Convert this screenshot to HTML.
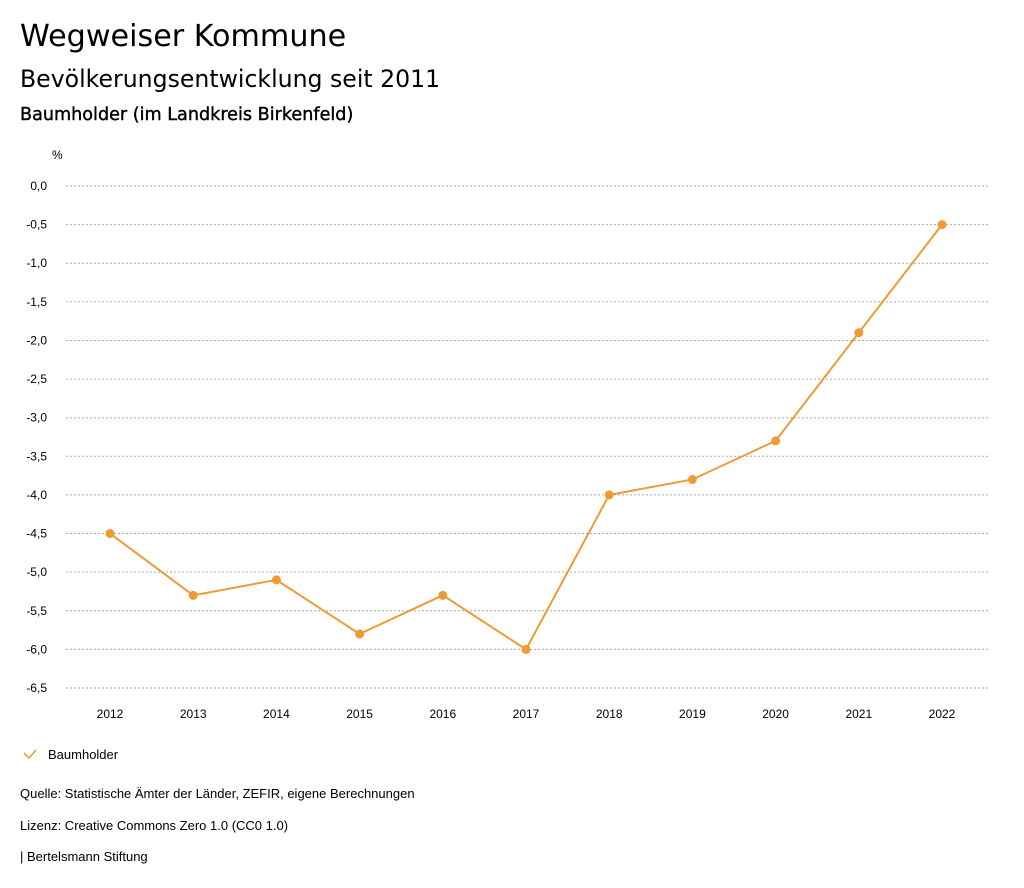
<!DOCTYPE html>
<html><head><meta charset="utf-8"><style>
body{margin:0;background:#fff;width:1024px;height:888px;overflow:hidden;font-family:"Liberation Sans","DejaVu Sans",sans-serif;color:#000}
.t{position:absolute;left:20px;white-space:nowrap}
</style></head><body>
<div class="t" style="top:19px;font-size:30.2px;font-family:'DejaVu Sans',sans-serif">Wegweiser Kommune</div>
<div class="t" style="top:65px;font-size:23.6px;font-family:'DejaVu Sans',sans-serif">Bevölkerungsentwicklung seit 2011</div>
<div class="t" style="top:105px;font-size:17.6px;font-family:'DejaVu Sans',sans-serif;-webkit-text-stroke:0.4px #000">Baumholder (im Landkreis Birkenfeld)</div>
<svg id="chart" width="1024" height="888" style="position:absolute;left:0;top:0" font-family="Liberation Sans, sans-serif" font-size="12">
<text x="52" y="159">%</text>
<g id="grid"></g><g id="xt"></g><g id="series"></g>
<g>
<path d="M24 753 L29 758 L36 750" stroke="#ef9a35" stroke-width="1.6" fill="none"/>
<text x="48" y="759" font-size="13">Baumholder</text></g>
<text x="20" y="798" font-size="13">Quelle: Statistische Ämter der Länder, ZEFIR, eigene Berechnungen</text>
<text x="20" y="830" font-size="13">Lizenz: Creative Commons Zero 1.0 (CC0 1.0)</text>
<text x="20" y="861" font-size="13">| Bertelsmann Stiftung</text>
</svg>
<script>
const years=["2012","2013","2014","2015","2016","2017","2018","2019","2020","2021","2022"];
const values=[-4.5,-5.3,-5.1,-5.8,-5.3,-6.0,-4.0,-3.8,-3.3,-1.9,-0.5];
const yTicks=[0,-0.5,-1,-1.5,-2,-2.5,-3,-3.5,-4,-4.5,-5,-5.5,-6,-6.5];
const NS="http://www.w3.org/2000/svg";
const y=v=>186+(0-v)/6.5*502;
const x=i=>110+i*(942-110)/(years.length-1);
function mk(t,a,p){const e=document.createElementNS(NS,t);for(const k in a)e.setAttribute(k,a[k]);p.appendChild(e);return e;}
const g=document.getElementById('grid');
yTicks.forEach(v=>{
 const l=mk('line',{x1:66,x2:990,y1:y(v),y2:y(v),stroke:'#aaa','stroke-dasharray':'2,2'},g);
 
 
 const t=mk('text',{x:47,y:y(v)+4,'text-anchor':'end'},g);
 t.textContent=v.toFixed(1).replace('.',',');
 
 
});
const xt=document.getElementById('xt');
years.forEach((yr,i)=>{
 const t=mk('text',{x:x(i),y:718,'text-anchor':'middle'},xt);
 t.textContent=yr;
 
 
});
const s=document.getElementById('series');
const pl=mk('polyline',{points:values.map((v,i)=>x(i)+','+y(v)).join(' '),fill:'none',stroke:'#ef9a35','stroke-width':2},s);


values.forEach((v,i)=>{
 const c=mk('circle',{cx:x(i),cy:y(v),r:4.5,fill:'#ef9a35'},s);
 
 
});
</script>
</body></html>
